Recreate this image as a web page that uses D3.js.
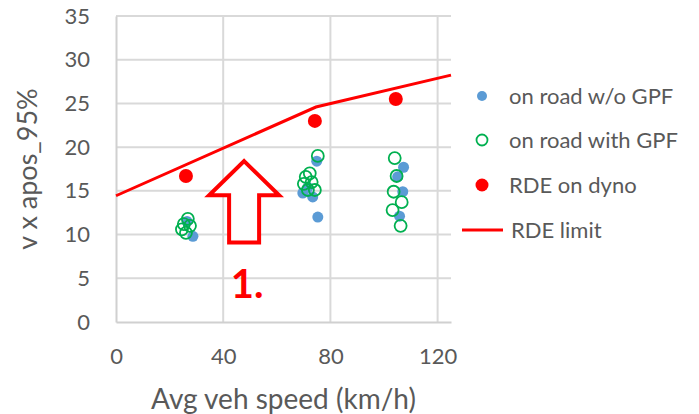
<!DOCTYPE html>
<html>
<head>
<meta charset="utf-8">
<script src="https://cdn.jsdelivr.net/npm/d3@7"></script>
<style>
  body { margin: 0; background: #fff; }
  text { font-family: Lato, "Open Sans", sans-serif; fill: #595959; }
</style>
</head>
<body>
<script>
// speeds (km/h) and v x apos_95% values
var noGpfSpeed = [28.7, 26.5, 74.9, 69.7, 73.4, 75.3, 71.6, 107.3, 105.1, 107.0, 105.8];
var noGpfVal   = [9.8, 11.5, 18.4, 14.75, 14.3, 12.0, 15.4, 17.7, 16.6, 14.9, 12.1];

var gpfSpeed = [26.8, 25.3, 24.6, 26.1, 27.6, 75.3, 72.3, 70.8, 70.1, 73.0, 74.2, 71.6, 104.0, 104.7, 103.6, 106.6, 103.2, 106.2];
var gpfVal   = [11.8, 11.2, 10.6, 10.2, 11.0, 19.0, 17.0, 16.6, 15.8, 16.0, 15.1, 15.1, 18.75, 16.7, 14.9, 13.7, 12.8, 11.0];

var dynoSpeed = [26.1, 74.2, 104.4];
var dynoVal   = [16.7, 23.0, 25.5];

var limitSpeed = [0, 74.6, 125];
var limitVal   = [14.44, 24.59, 28.24];

var xTicks = [0, 40, 80, 120];
var yTicks = [0, 5, 10, 15, 20, 25, 30, 35];

var legendNames = ["on road w/o GPF", "on road with GPF", "RDE on dyno", "RDE limit"];

var width = 699, height = 414;
var margin = { left: 116, right: 248, top: 16, bottom: 92 };

var svg = d3.select("body").append("svg").attr("width", width).attr("height", height);

var x = d3.scaleLinear().domain([0, 125]).range([margin.left, width - margin.right]);
var y = d3.scaleLinear().domain([0, 35]).range([height - margin.bottom, margin.top]);

// gridlines
svg.append("g").selectAll("line.h")
  .data(yTicks.slice(1))
  .enter().append("line")
  .attr("x1", x(0)).attr("x2", x(125))
  .attr("y1", function (d) { return y(d); }).attr("y2", function (d) { return y(d); })
  .style("stroke", "#d9d9d9").style("stroke-width", 2);

svg.append("g").selectAll("line.v")
  .data(xTicks.slice(1))
  .enter().append("line")
  .attr("x1", function (d) { return x(d); }).attr("x2", function (d) { return x(d); })
  .attr("y1", y(0)).attr("y2", y(35))
  .style("stroke", "#d9d9d9").style("stroke-width", 2);

// axes
var yAxis = svg.append("g")
  .attr("transform", "translate(" + x(0) + ",0)")
  .call(d3.axisLeft(y).tickValues(yTicks).tickSize(0).tickPadding(26));
var xAxis = svg.append("g")
  .attr("transform", "translate(0," + y(0) + ")")
  .call(d3.axisBottom(x).tickValues(xTicks).tickSize(0).tickPadding(26));

[xAxis, yAxis].forEach(function (a) {
  a.select(".domain").style("stroke", "#d0d0d0").style("stroke-width", 2);
  a.selectAll("text").style("font-size", "22px").style("fill", "#595959").style("font-family", "Lato");
});

svg.append("text")
  .attr("x", x(62.5)).attr("y", 409)
  .attr("text-anchor", "middle")
  .style("font-size", "28px")
  .text("Avg veh speed (km/h)");

svg.append("text")
  .attr("transform", "translate(37," + y(17.5) + ") rotate(-90)")
  .attr("text-anchor", "middle")
  .style("font-size", "27px")
  .text("v x apos_95%");

// data
var blue = "#5b9bd5", green = "#00b050", red = "#ff0000";

svg.append("g").selectAll("circle")
  .data(d3.range(noGpfSpeed.length))
  .enter().append("circle")
  .attr("cx", function (i) { return x(noGpfSpeed[i]); })
  .attr("cy", function (i) { return y(noGpfVal[i]); })
  .attr("r", 5.5)
  .style("fill", blue);

svg.append("g").selectAll("circle")
  .data(d3.range(gpfSpeed.length))
  .enter().append("circle")
  .attr("cx", function (i) { return x(gpfSpeed[i]); })
  .attr("cy", function (i) { return y(gpfVal[i]); })
  .attr("r", 6)
  .style("fill", "none").style("stroke", green).style("stroke-width", 1.8);

svg.append("g").selectAll("circle")
  .data(d3.range(dynoSpeed.length))
  .enter().append("circle")
  .attr("cx", function (i) { return x(dynoSpeed[i]); })
  .attr("cy", function (i) { return y(dynoVal[i]); })
  .attr("r", 7)
  .style("fill", red);

var limitLine = d3.line()
  .x(function (i) { return x(limitSpeed[i]); })
  .y(function (i) { return y(limitVal[i]); });

svg.append("path")
  .attr("d", limitLine(d3.range(limitSpeed.length)))
  .style("fill", "none").style("stroke", red).style("stroke-width", 3);

// annotation arrow and label
var ax = x(47.8), aTop = y(18.4), aBase = y(14.5), aBottom = y(9.1);
var arrowPts = [[ax, aTop], [ax + 35, aBase], [ax + 15, aBase], [ax + 15, aBottom],
  [ax - 15, aBottom], [ax - 15, aBase], [ax - 35, aBase]];
svg.append("path")
  .attr("d", d3.line()(arrowPts) + "Z")
  .style("fill", "#fff").style("stroke", red).style("stroke-width", 4)
  .style("stroke-linejoin", "miter");

svg.append("text")
  .attr("x", ax + 3).attr("y", 298)
  .attr("text-anchor", "middle")
  .style("font-size", "40px").style("font-weight", "bold").style("fill", red)
  .text("1.");

// legend
var legend = svg.append("g");
var ly = [96, 140, 185, 230];
legend.append("circle").attr("cx", 482).attr("cy", ly[0]).attr("r", 5).style("fill", blue);
legend.append("circle").attr("cx", 482).attr("cy", ly[1]).attr("r", 5.5).style("fill", "none").style("stroke", green).style("stroke-width", 1.8);
legend.append("circle").attr("cx", 482).attr("cy", ly[2]).attr("r", 6.5).style("fill", red);
legend.append("line").attr("x1", 462).attr("x2", 503).attr("y1", ly[3]).attr("y2", ly[3]).style("stroke", red).style("stroke-width", 3);

legend.selectAll("text")
  .data(legendNames)
  .enter().append("text")
  .attr("x", function (d, i) { return i == 3 ? 511 : 509; })
  .attr("y", function (d, i) { return ly[i] + 8; })
  .style("font-size", "22px")
  .text(function (d) { return d; });
</script>
</body>
</html>
